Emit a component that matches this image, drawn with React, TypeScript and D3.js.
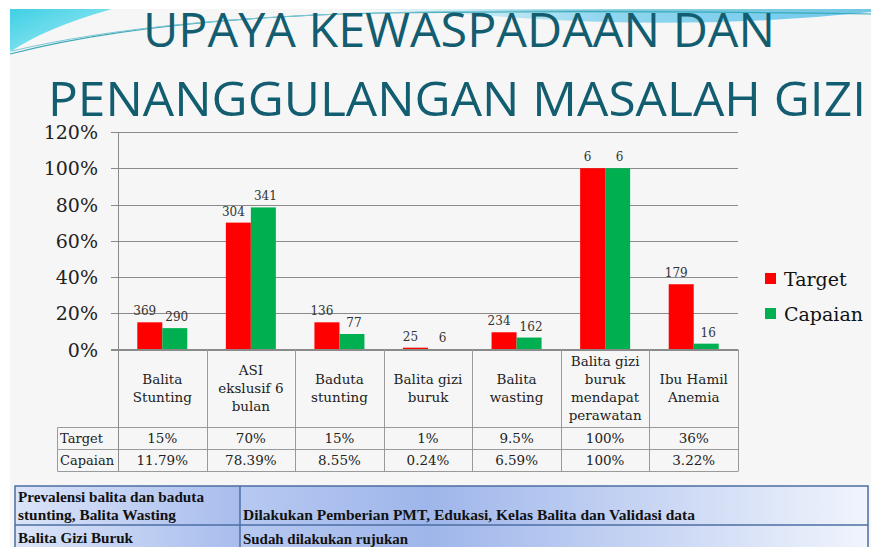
import React from "react";
import * as d3 from "d3";

const categories = [
  "Balita\nStunting",
  "ASI\nekslusif 6\nbulan",
  "Baduta\nstunting",
  "Balita gizi\nburuk",
  "Balita\nwasting",
  "Balita gizi\nburuk\nmendapat\nperawatan",
  "Ibu Hamil\nAnemia",
];
const series = ["Target", "Capaian"];
const targetValues = [0.15, 0.7, 0.15, 0.01, 0.095, 1.0, 0.36];
const capaianValues = [0.1179, 0.7839, 0.0855, 0.0024, 0.0659, 1.0, 0.0322];
const targetCounts = ["369", "304", "136", "25", "234", "6", "179"];
const capaianCounts = ["290", "341", "77", "6", "162", "6", "16"];
const targetText = ["15%", "70%", "15%", "1%", "9.5%", "100%", "36%"];
const capaianText = ["11.79%", "78.39%", "8.55%", "0.24%", "6.59%", "100%", "3.22%"];
const yTicks = [0, 0.2, 0.4, 0.6, 0.8, 1.0, 1.2];
const colors = ["#ff0000", "#00b050"];
const titleLines = ["UPAYA KEWASPADAAN DAN", "PENANGGULANGAN MASALAH GIZI"];
const noteRows = [
  { left: ["Prevalensi balita dan baduta", "stunting, Balita Wasting"], right: "Dilakukan Pemberian PMT, Edukasi, Kelas Balita dan Validasi data" },
  { left: ["Balita Gizi Buruk"], right: "Sudah dilakukan rujukan" },
];

const serif = "'DejaVu Serif', serif";

export default function App() {
  const x0 = 118, x1 = 738;
  const y = d3.scaleLinear().domain([0, 1.2]).range([349.5, 132]);
  const x = d3.scaleBand<string>().domain(categories).range([x0, x1]).padding(0);
  const bw = x.bandwidth();
  const inner = d3.scaleBand<string>().domain(series).range([(bw - 50) / 2, (bw + 50) / 2]).padding(0);
  const values = [targetValues, capaianValues];
  const counts = [targetCounts, capaianCounts];
  const labelDx = [-5, 2];
  const headerTop = 349.5, headerBot = 427.5, row1 = 449.5, row2 = 471.5, tableLeft = 57.5;
  const lineColor = "#9a9a9a";

  return (
    <svg width={871} height={547} style={{ position: "absolute", left: 0, top: 0, display: "block" }}>
      <defs>
        <linearGradient id="cyan" x1="0" y1="0" x2="1" y2="1">
          <stop offset="0" stopColor="#3fcfe4" />
          <stop offset="1" stopColor="#a9eef6" />
        </linearGradient>
        <linearGradient id="band" x1="0" y1="0" x2="1" y2="0">
          <stop offset="0" stopColor="#d8f3f9" stopOpacity="0.3" />
          <stop offset="0.5" stopColor="#86d3ee" />
          <stop offset="1" stopColor="#5fc3ea" />
        </linearGradient>
        <linearGradient id="leftCell" x1="0" y1="0" x2="1" y2="0">
          <stop offset="0" stopColor="#dbe4f8" />
          <stop offset="1" stopColor="#a8bdee" />
        </linearGradient>
        <linearGradient id="rightCell" x1="0" y1="0" x2="1" y2="0">
          <stop offset="0" stopColor="#b7c9f1" />
          <stop offset="0.3" stopColor="#9fb6eb" />
          <stop offset="1" stopColor="#f0f4fc" />
        </linearGradient>
      </defs>
      <rect x={0} y={0} width={871} height={547} fill="#ffffff" />
      <rect x={10} y={9} width={861} height={538} fill="#f6f6f6" />
      {/* decorative swoosh */}
      <path d="M10,9 L112,9 Q45,28 10,52 Z" fill="url(#cyan)" />
      <path d="M330,9 L871,9 L871,12 Q700,30 520,18 Q420,10 330,9 Z" fill="url(#band)" opacity={0.9} />
      <path d="M10,54 Q150,18 380,13 Q600,10 871,14" fill="none" stroke="#3aa9b8" strokeWidth={1.2} />
      <path d="M12,51 Q160,16 420,12 Q650,9 871,11" fill="none" stroke="#7cc7d3" strokeWidth={1} />
      {/* title */}
      {titleLines.map((t, i) => (
        <text key={t} x={i === 0 ? 143 : 48} y={i === 0 ? 47 : 116}
          textLength={i === 0 ? 632 : 818} lengthAdjust="spacingAndGlyphs"
          fontFamily="'Open Sans', sans-serif" fontSize={47} fill="#135d70">{t}</text>
      ))}
      {/* gridlines */}
      {yTicks.map((t) => (
        <g key={t}>
          <line x1={111} x2={x1} y1={Math.round(y(t)) + 0.5} y2={Math.round(y(t)) + 0.5} stroke="#8a8a8a" strokeWidth={1} />
          <text x={98} y={y(t) + 7} textAnchor="end" fontFamily={serif} fontSize={19} fill="#222">{`${Math.round(t * 100)}%`}</text>
        </g>
      ))}
      <line x1={x0 + 0.5} x2={x0 + 0.5} y1={y(1.2)} y2={row2} stroke="#8a8a8a" />
      {/* bars */}
      {categories.map((c, ci) => (
        <g key={c} transform={`translate(${x(c)},0)`}>
          {series.map((s, si) => {
            const v = values[si][ci];
            const bx = inner(s)!;
            return (
              <g key={s}>
                <rect x={bx} y={y(v)} width={inner.bandwidth()} height={y(0) - y(v)} fill={colors[si]} />
                <text x={bx + inner.bandwidth() / 2 + labelDx[si]} y={y(v) - 7} textAnchor="middle" fontFamily={serif} fontSize={12} fill="#333">{counts[si][ci]}</text>
              </g>
            );
          })}
        </g>
      ))}
      {/* data table */}
      <g stroke={lineColor} strokeWidth={1}>
        <line x1={111} x2={x1} y1={headerTop} y2={headerTop} stroke="#8a8a8a" />
        <line x1={tableLeft} x2={x1} y1={headerBot} y2={headerBot} />
        <line x1={tableLeft} x2={x1} y1={row1} y2={row1} />
        <line x1={tableLeft} x2={x1} y1={row2} y2={row2} />
        <line x1={tableLeft} x2={tableLeft} y1={headerBot} y2={row2} />
        {categories.map((c) => (
          <line key={c} x1={Math.round(x(c)! + bw) + 0.5} x2={Math.round(x(c)! + bw) + 0.5} y1={headerTop} y2={row2} />
        ))}
      </g>
      {categories.map((c, ci) => {
        const lines = c.split("\n");
        const cx = x(c)! + bw / 2;
        const first = 388 - (lines.length - 1) * 9 + 5;
        return (
          <g key={c} fontFamily={serif} fontSize={13.5} fill="#222" textAnchor="middle">
            {lines.map((l, li) => (
              <text key={li} x={cx} y={first + li * 18}>{l}</text>
            ))}
            <text x={cx} y={443}>{targetText[ci]}</text>
            <text x={cx} y={465}>{capaianText[ci]}</text>
          </g>
        );
      })}
      <text x={60} y={443} fontFamily={serif} fontSize={13} fill="#222">{series[0]}</text>
      <text x={60} y={465} fontFamily={serif} fontSize={13} fill="#222">{series[1]}</text>
      {/* legend */}
      {series.map((s, i) => (
        <g key={s} transform={`translate(765,${273 + i * 35})`}>
          <rect x={0} y={0} width={11} height={11} fill={colors[i]} />
          <text x={19} y={13} fontFamily={serif} fontSize={19} fill="#111">{s}</text>
        </g>
      ))}
      {/* bottom notes table */}
      <g>
        <rect x={15} y={486} width={225} height={39} fill="url(#leftCell)" />
        <rect x={240} y={486} width={628} height={39} fill="url(#rightCell)" />
        <rect x={15} y={525} width={225} height={30} fill="url(#leftCell)" />
        <rect x={240} y={525} width={628} height={30} fill="url(#rightCell)" />
        <g stroke="#4d6ea3" strokeWidth={1.5} fill="none">
          <rect x={15} y={486} width={853} height={70} />
          <line x1={15} x2={868} y1={525} y2={525} />
          <line x1={240} x2={240} y1={486} y2={556} />
        </g>
        <g fontFamily="'Liberation Serif', serif" fontWeight="bold" fontSize={15} fill="#111">
          <text x={18} y={502} textLength={186} lengthAdjust="spacingAndGlyphs">{noteRows[0].left[0]}</text>
          <text x={18} y={520} textLength={158} lengthAdjust="spacingAndGlyphs">{noteRows[0].left[1]}</text>
          <text x={243} y={520} textLength={452} lengthAdjust="spacingAndGlyphs">{noteRows[0].right}</text>
          <text x={18} y={543} textLength={115} lengthAdjust="spacingAndGlyphs">{noteRows[1].left[0]}</text>
          <text x={243} y={544} textLength={165} lengthAdjust="spacingAndGlyphs">{noteRows[1].right}</text>
        </g>
      </g>
    </svg>
  );
}
